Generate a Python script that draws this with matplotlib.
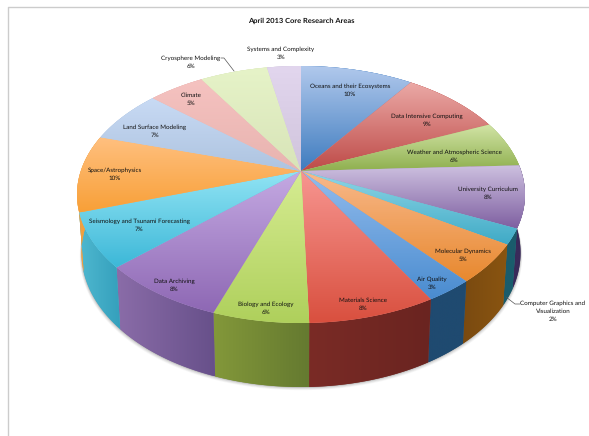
import numpy as np
import matplotlib
matplotlib.use("Agg")
import matplotlib.pyplot as plt
from matplotlib.colors import to_rgb
from matplotlib.patches import Polygon

plt.rcParams["font.family"] = ["Lato", "DejaVu Sans"]
plt.rcParams["text.hinting"] = "none"

names = [
    "Oceans and their Ecosystems", "Data Intensive Computing",
    "Weather and Atmospheric Science", "University Curriculum",
    "Computer Graphics and\nVisualization", "Molecular Dynamics", "Air Quality",
    "Materials Science", "Biology and Ecology", "Data Archiving",
    "Seismology and Tsunami Forecasting", "Space/Astrophysics",
    "Land Surface Modeling", "Climate", "Cryosphere Modeling",
    "Systems and Complexity",
]
values = [10, 9, 6, 8, 2, 5, 3, 8, 6, 8, 7, 10, 7, 5, 6, 3]

top_light = [
    "#B0C8EC", "#EBA9A6", "#D2E4A6", "#CDC0E0", "#8FD6E6", "#F8B98C", "#93BCEC", "#F79590",
    "#D6EC92", "#C4A9E2", "#92E4F4", "#FFC080", "#C8DAF4", "#F5C2C0", "#E6F3C8", "#E2D6EE",
]
top_dark = [
    "#3F7CBF", "#BE4B48", "#8FB04F", "#7E5FA0", "#3FAAC6", "#E8892F", "#4A8CD0", "#D9503F",
    "#AFD05C", "#8E68B4", "#3DB8D8", "#F8A038", "#AEC4E0", "#E8B4B0", "#D8E4B8", "#D0C4DC",
]
wall_left = [
    "#3F7CBF", "#BE4B48", "#8FB04F", "#3A2A5A", "#1A5C6C", "#7A4A10", "#1F4A70", "#7A2B26",
    "#83983A", "#8A6CA8", "#4FB8D0", "#F0A040", "#AEC4E0", "#E8B4B0", "#D8E4B8", "#D0C4DC",
]
wall_right = [
    "#3F7CBF", "#BE4B48", "#8FB04F", "#3A2A5A", "#1A5C6C", "#8A5510", "#1F4A70", "#6A2420",
    "#657A30", "#67508A", "#35A0BC", "#F0A040", "#AEC4E0", "#E8B4B0", "#D8E4B8", "#D0C4DC",
]

label_x = [350, 427, 454, 488, 553, 463, 432, 363, 266, 174, 139, 115, 155, 191, 191, 281]
label_y = [90.5, 120.5, 156, 193.5, 311.5, 255, 283, 304.5, 308, 285.5, 225, 174.5, 131.5, 99.5, 62, 53]

# perspective disc: apex position, scale and foreshortening
CX, CY = 301, 171
A, B, K = 220.2, 124.2, 0.183


def project(theta):
    # theta is clockwise from the far side of the disc
    u, v = np.sin(theta), np.cos(theta)
    w = 1 + K * v
    return CX + A * u / w, CY - B * v / w


def project_bottom(theta):
    x, y = project(theta)
    return CX + 0.98 * (x - CX), y + 57 - 7 * np.cos(theta)


def gradient_fill(ax, pts, c0, c1, horizontal=False):
    # paints a two colour ramp across the bounding box of a polygon
    pts = np.asarray(pts)
    x0, x1 = pts[:, 0].min(), pts[:, 0].max()
    y0, y1 = pts[:, 1].min(), pts[:, 1].max()
    t = np.linspace(0, 1, 64)
    ramp = np.outer(1 - t, to_rgb(c0)) + np.outer(t, to_rgb(c1))
    img = ramp[np.newaxis, :, :] if horizontal else ramp[:, np.newaxis, :]
    ax.add_patch(Polygon(pts, closed=True, facecolor=tuple((np.array(to_rgb(c0)) + to_rgb(c1)) / 2),
                         edgecolor="none", zorder=ax_z[0]))
    im = ax.imshow(img, extent=(x0, x1, y1, y0), aspect="auto", interpolation="bilinear", zorder=ax_z[0] + 0.1)
    clip = Polygon(pts, closed=True, transform=ax.transData)
    im.set_clip_path(clip)
    ax_z[0] += 0.2


fig = plt.figure(figsize=(5.89, 4.36), dpi=100)
ax = fig.add_axes([0, 0, 1, 1])
ax.set_xlim(0, 589)
ax.set_ylim(436, 0)
ax.axis("off")
ax_z = [2]

# page outline
ax.plot([8, 8, 589], [436, 7, 7], color="#CCCCCC", linewidth=1.0, zorder=1)

fractions = np.array(values) / sum(values)
edges = np.concatenate([[0], np.cumsum(fractions)]) * 2 * np.pi

# soft shadow under the cylinder
full = np.linspace(0, 2 * np.pi, 300)
bx, by = project_bottom(full)
for grow, alpha in zip([4.5, 3.5, 2.5, 1.5, 0.8], [0.05, 0.07, 0.09, 0.12, 0.15]):
    ax.add_patch(Polygon(np.column_stack([bx + grow * np.sign(bx - CX) * 0.4, by + grow * 0.7]),
                         closed=True, facecolor="#606060", edgecolor="none", alpha=alpha, zorder=1.5))

# side walls first so the top face covers the far half
for i in range(len(values)):
    th = np.linspace(edges[i], edges[i + 1], 40)
    tx, ty = project(th)
    bx, by = project_bottom(th)
    pts = np.column_stack([np.r_[tx, bx[::-1]], np.r_[ty, by[::-1]]])
    gradient_fill(ax, pts, wall_left[i], wall_right[i], horizontal=True)

for i in range(len(values)):
    th = np.linspace(edges[i], edges[i + 1], 40)
    tx, ty = project(th)
    pts = np.column_stack([np.r_[CX, tx], np.r_[CY, ty]])
    gradient_fill(ax, pts, top_light[i], top_dark[i])

for name, val, lx, ly in zip(names, values, label_x, label_y):
    ax.text(lx, ly, f"{name}\n{val}%", ha="center", va="center", fontsize=4.5, color="#111111",
            linespacing=1.6, zorder=20)

ax.text(CX, 21, "April 2013 Core Research Areas", ha="center", va="center", fontsize=5.4,
        fontweight="bold", color="#111111", zorder=20)

# leader lines for the two outside labels
ax.plot([221, 224, 234], [58, 58, 71], color="#555555", linewidth=0.5, zorder=20)
ax.plot([506, 515, 520], [297, 304, 304], color="#555555", linewidth=0.5, zorder=20)

fig.savefig("out.png", dpi=100, facecolor="white")
